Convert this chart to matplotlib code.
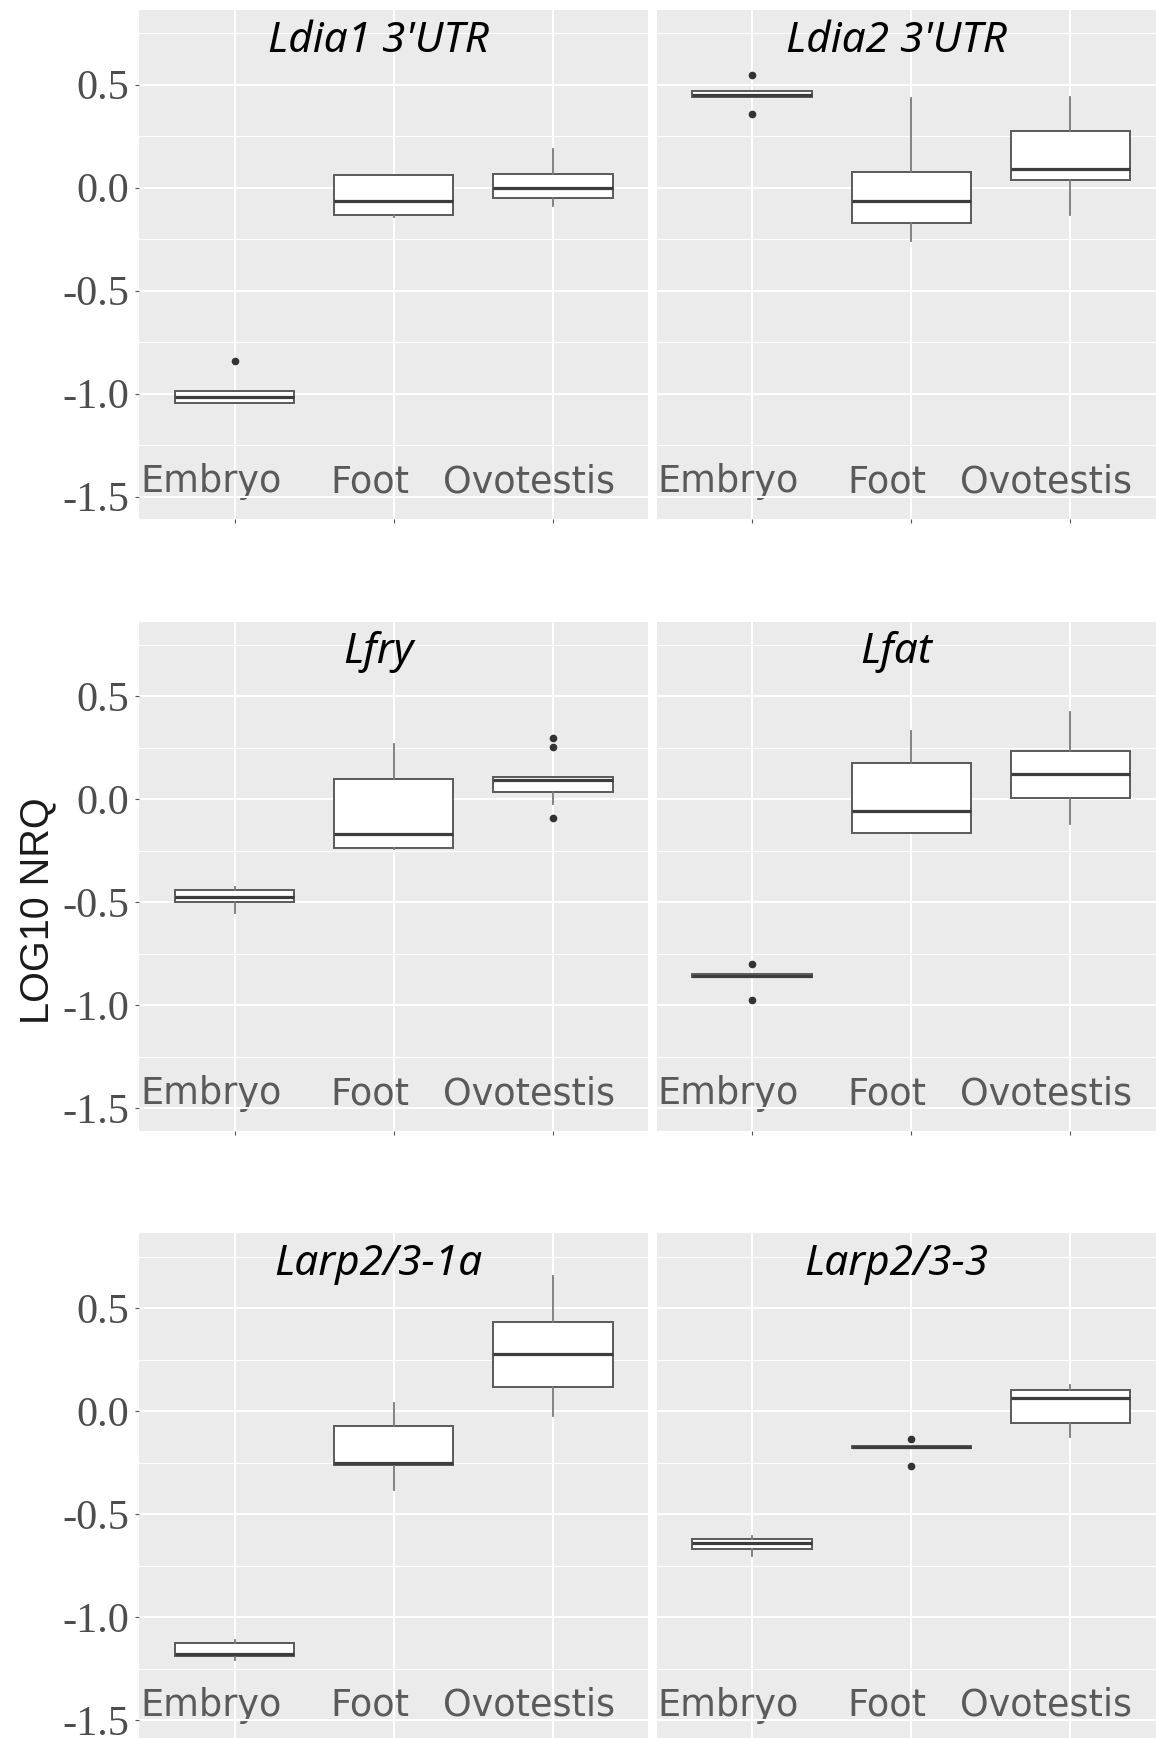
import matplotlib
matplotlib.use("Agg")
import matplotlib.pyplot as plt
from matplotlib import font_manager as fm
from matplotlib.transforms import ScaledTranslation
from matplotlib.ticker import FixedLocator, AutoMinorLocator

# ---------------- data ----------------
genes = ["Ldia1 3'UTR", "Ldia2 3'UTR", "Lfry", "Lfat", "Larp2/3-1a", "Larp2/3-3"]
tissues = ["Embryo", "Foot", "Ovotestis"]
y_ticks = [0.5, 0.0, -0.5, -1.0, -1.5]
y_tick_labels = ["0.5", "0.0", "-0.5", "-1.0", "-1.5"]
y_label = "LOG10 NRQ"

# one row per gene, columns = Embryo, Foot, Ovotestis
q1 = [[-1.043, -0.132, -0.048],
      [0.440, -0.174, 0.038],
      [-0.498, -0.237, 0.034],
      [-0.862, -0.162, 0.008],
      [-1.188, -0.260, 0.116],
      [-0.669, -0.180, -0.057]]
median = [[-1.018, -0.065, 0.000],
          [0.450, -0.065, 0.090],
          [-0.473, -0.167, 0.096],
          [-0.855, -0.059, 0.123],
          [-1.180, -0.253, 0.275],
          [-0.640, -0.174, 0.065]]
q3 = [[-0.988, 0.059, 0.065],
      [0.470, 0.077, 0.274],
      [-0.439, 0.099, 0.109],
      [-0.848, 0.178, 0.236],
      [-1.127, -0.074, 0.433],
      [-0.621, -0.170, 0.101]]
whisker_low = [[-1.045, -0.144, -0.087],
               [0.440, -0.258, -0.132],
               [-0.552, -0.240, -0.022],
               [-0.862, -0.162, -0.118],
               [-1.207, -0.384, -0.025],
               [-0.705, -0.180, -0.127]]
whisker_high = [[-0.985, 0.059, 0.189],
                [0.470, 0.433, 0.441],
                [-0.423, 0.268, 0.110],
                [-0.848, 0.332, 0.426],
                [-1.109, 0.041, 0.658],
                [-0.607, -0.170, 0.125]]
outliers = [[[-0.839], [], []],
            [[0.548, 0.358], [], []],
            [[], [], [0.298, 0.256, -0.089]],
            [[-0.800, -0.973], [], []],
            [[], [], []],
            [[], [-0.135, -0.265], []]]

# ---------------- fonts ----------------
def has_font(name, styles=("normal",)):
    return any(f.name == name and f.style in styles for f in fm.fontManager.ttflist)

title_family, title_style = "DejaVu Sans", "oblique"
title_size = 28
for fam, sz in (("Noto Sans", 30.5), ("Open Sans", 30.0)):
    if has_font(fam, ("italic",)):
        title_family, title_style, title_size = fam, "italic", sz
        break
serif_family = "Liberation Serif" if has_font("Liberation Serif") else "DejaVu Serif"
sans_label_family = "Liberation Sans" if has_font("Liberation Sans") else "DejaVu Sans"

# ---------------- layout ----------------
W, H, DPI = 1156, 1738, 100
fig = plt.figure(figsize=(W / DPI, H / DPI), dpi=DPI)
fig.patch.set_facecolor("white")

col_left = [139.3, 656.7]
row_top = [10.0, 621.7, 1233.5]
pw, ph = 509.0, 509.0

bg = "#EBEBEB"
for i, gene in enumerate(genes):
    r, c = divmod(i, 2)
    ax = fig.add_axes([col_left[c] / W, 1 - (row_top[r] + ph) / H, pw / W, ph / H])
    ax.set_facecolor(bg)
    for s in ax.spines.values():
        s.set_visible(False)
    ax.set_axisbelow(True)

    stats = []
    for j in range(len(tissues)):
        stats.append(dict(med=median[i][j], q1=q1[i][j], q3=q3[i][j],
                          whislo=whisker_low[i][j], whishi=whisker_high[i][j],
                          fliers=outliers[i][j], label=tissues[j]))
    ax.bxp(stats, positions=[1, 2, 3], widths=0.75, showcaps=False,
           patch_artist=True,
           boxprops=dict(facecolor="white", edgecolor="#5a5a5a", linewidth=1.4),
           medianprops=dict(color="#3c3c3c", linewidth=2.3, solid_capstyle="butt"),
           whiskerprops=dict(color="#7a7a7a", linewidth=1.3),
           flierprops=dict(marker="o", markerfacecolor="#333333",
                           markeredgecolor="#333333", markersize=4.5))

    ax.set_xlim(0.4, 3.6)
    ax.set_ylim(-1.608, 0.862)

    ax.yaxis.set_major_locator(FixedLocator(y_ticks))
    ax.yaxis.set_minor_locator(AutoMinorLocator(2))
    ax.grid(True, which="major", axis="both", color="white", linewidth=1.5)
    ax.grid(True, which="minor", axis="y", color="white", linewidth=0.75)
    ax.tick_params(which="minor", length=0)

    # y axis
    if c == 0:
        ax.set_yticklabels(y_tick_labels, family=serif_family, fontsize=30.5,
                           color="#4d4d4d")
        ax.tick_params(axis="y", length=3, width=0.8, color="#555555", pad=4.3)
    else:
        ax.tick_params(axis="y", left=False, labelleft=False)

    # x axis: labels drawn inside the panel, shifted left
    ax.set_xticks([1, 2, 3])
    ax.set_xticklabels(tissues, family="DejaVu Sans", fontsize=26.4, color="#5a5a5a")
    ax.tick_params(axis="x", length=3, width=0.8, color="#555555", pad=-22.1)
    for lab in ax.get_xticklabels():
        lab.set_verticalalignment("baseline")
        lab.set_transform(lab.get_transform() +
                          ScaledTranslation(-24 / DPI, 0, fig.dpi_scale_trans))

    # panel title inside the panel
    ax.text(0.5 - 15 / pw, 1 - 41.5 / ph, gene, transform=ax.transAxes,
            ha="center", va="baseline", fontsize=title_size,
            family=title_family, style=title_style, color="black")

fig.text(37 / W, 1 - 911 / H, y_label, rotation=90, ha="center", va="center",
         fontsize=28.5, family=sans_label_family, color="#1a1a1a")

fig.savefig("out.png", dpi=DPI, facecolor="white")
